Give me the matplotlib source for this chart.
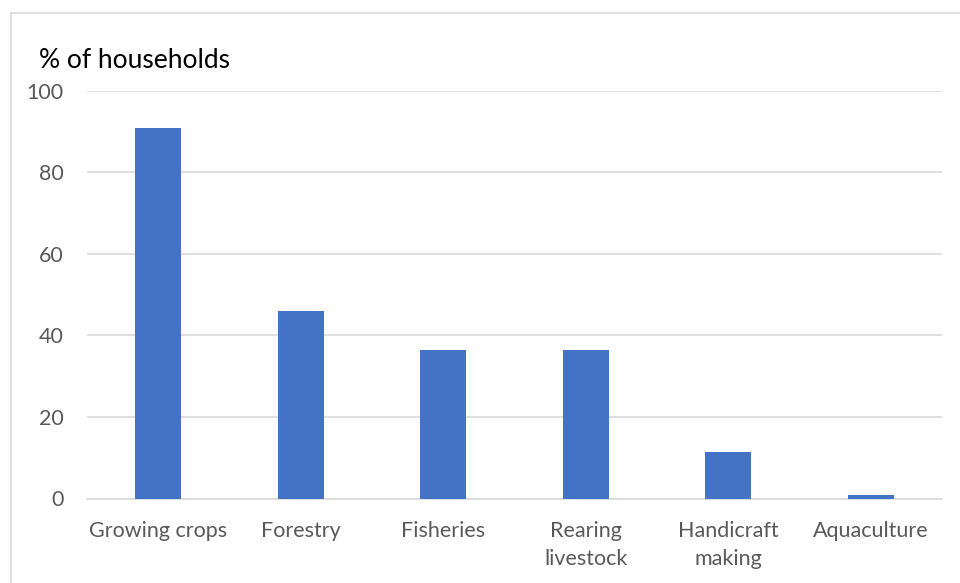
import matplotlib.pyplot as plt
from matplotlib.patches import Rectangle

# Share of households engaged in each livelihood activity
activities = ["Growing crops", "Forestry", "Fisheries", "Rearing\nlivestock",
              "Handicraft\nmaking", "Aquaculture"]
pct_households = [90.9, 45.9, 36.4, 36.4, 11.3, 0.8]
y_ticks = [0, 20, 40, 60, 80, 100]

plt.rcParams['font.family'] = ['Lato', 'DejaVu Sans']

fig = plt.figure(figsize=(9.6, 5.83), dpi=100)
ax = fig.add_axes([87 / 960, 1 - 498.5 / 583, 855 / 960, 407.5 / 583])

x = range(len(activities))
ax.bar(x, pct_households, width=0.32, color="#4472C4", zorder=3)

ax.set_xlim(-0.5, len(activities) - 0.5)
ax.set_ylim(0, 100)
ax.set_yticks(y_ticks)
ax.set_xticks(list(x))
ax.set_xticklabels(activities, fontsize=15.5, color="#595959", linespacing=1.5)
ax.tick_params(axis="y", labelsize=15.5, labelcolor="#595959", length=0, pad=17)
ax.tick_params(axis="x", length=0, pad=16)
ax.grid(axis="y", color="#D9D9D9", linewidth=1.2, zorder=0)
for side in ["top", "right", "left"]:
    ax.spines[side].set_visible(False)
ax.spines["bottom"].set_color("#D9D9D9")
ax.spines["bottom"].set_linewidth(1.2)

fig.text(39 / 960, 1 - 60 / 583, "% of households", fontsize=19, color="black",
         va="center", ha="left")

# light chart frame
fig.patches.append(Rectangle((11 / 960, -0.1), 2, 1.1 - 13 / 583,
                             transform=fig.transFigure, fill=False,
                             edgecolor="#D9D9D9", linewidth=1.2))

fig.savefig("out.png", dpi=100)
